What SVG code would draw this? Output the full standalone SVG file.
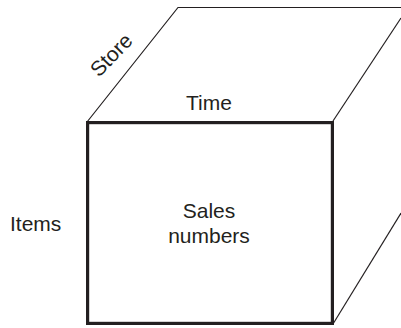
<svg xmlns="http://www.w3.org/2000/svg" width="401" height="328" viewBox="0 0 401 328">
<style>
.t{font-family:"Liberation Sans",Arial,sans-serif;font-size:21px;fill:#231f20}
.thin{fill:none;stroke:#231f20;stroke-width:1.2}
.thick{fill:none;stroke:#231f20;stroke-width:3.2}
</style>
<rect width="401" height="328" fill="#fff"/>
<g id="connectors">
<path class="thin" d="M87,122 L178,7.5 L401,7.5"/>
<path class="thin" d="M333,121 L401,18"/>
<path class="thin" d="M333,324 L401,213"/>
</g>
<g id="cube-front">
<rect class="thick" x="87.6" y="122.6" width="244.8" height="200.8"/>
</g>
<g id="label-store"><text class="t" transform="translate(99,78) rotate(-46)">Store</text></g>
<g id="label-time"><text class="t" x="209" y="110" text-anchor="middle">Time</text></g>
<g id="label-items"><text class="t" x="10" y="231">Items</text></g>
<g id="label-sales"><text class="t" x="209" y="218" text-anchor="middle">Sales</text><text class="t" x="209" y="243" text-anchor="middle">numbers</text></g>
</svg>
